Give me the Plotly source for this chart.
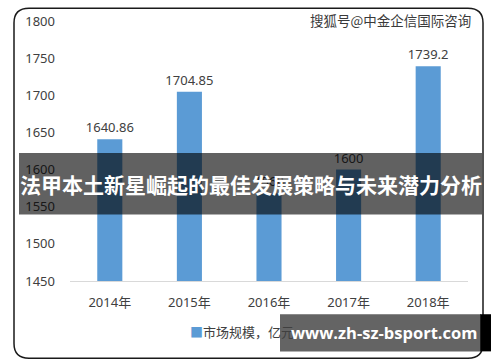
import plotly.graph_objects as go

years = ["2014年", "2015年", "2016年", "2017年", "2018年"]
market_size = [1640.86, 1704.85, 1568, 1600, 1739.2]
value_labels = ["1640.86", "1704.85", "1568", "1600", "1739.2"]
y_ticks = [1450, 1500, 1550, 1600, 1650, 1700, 1750, 1800]
series_name = "市场规模，亿元"
title_text = "法甲本土新星崛起的最佳发展策略与未来潜力分析"
watermark = "搜狐号@中金企信国际咨询"
site_text = "www.zh-sz-bsport.com"

W, H = 500, 362
L, R, T, B = 70, 32, 15, 81
PW, PH = W - L - R, H - T - B


def px(x):
    return (x - L) / PW


def py(y):
    return (H - B - y) / PH


BLUE = "#5b9bd5"
TXT = "#404040"
FONT = "Noto Sans, Noto Sans CJK SC, sans-serif"

fig = go.Figure()
fig.add_trace(go.Bar(
    x=years, y=market_size, name=series_name,
    marker=dict(color=BLUE, line=dict(width=0)),
    text=value_labels, textposition="outside", constraintext="none",
    textfont=dict(size=13, color=TXT, family=FONT),
    cliponaxis=False, showlegend=False,
))

# rounded frame
x0, y0, x1, y1, r = 14, 2, 483, 360, 15
path = (
    f"M {px(x0 + r)},{py(y0)} L {px(x1 - r)},{py(y0)} "
    f"Q {px(x1)},{py(y0)} {px(x1)},{py(y0 + r)} "
    f"L {px(x1)},{py(y1 - r)} Q {px(x1)},{py(y1)} {px(x1 - r)},{py(y1)} "
    f"L {px(x0 + r)},{py(y1)} Q {px(x0)},{py(y1)} {px(x0)},{py(y1 - r)} "
    f"L {px(x0)},{py(y0 + r)} Q {px(x0)},{py(y0)} {px(x0 + r)},{py(y0)} Z"
)
shapes = [
    dict(type="path", xref="paper", yref="paper", path=path,
         line=dict(color="#1a1a1a", width=1.5), layer="below"),
    dict(type="rect", xref="paper", yref="paper",
         x0=px(19), x1=px(482), y0=py(150), y1=py(213),
         fillcolor="rgba(0,0,0,0.62)", line=dict(width=0), layer="above"),
    dict(type="rect", xref="paper", yref="paper",
         x0=px(480), x1=px(491), y0=py(315), y1=py(353),
         fillcolor="#000000", line=dict(width=0), layer="above"),
    dict(type="rect", xref="paper", yref="paper",
         x0=px(280), x1=px(481), y0=py(315), y1=py(353),
         fillcolor="rgba(40,40,40,0.72)", line=dict(width=0), layer="above"),
]

annotations = [
    dict(text=f"<span style='color:{BLUE}'>■</span>{series_name}", xref="paper", yref="paper",
         x=px(188), y=py(333), xanchor="left", yanchor="middle",
         showarrow=False, font=dict(size=13, color=TXT, family="Noto Sans CJK SC")),
    dict(text=f"<b>{title_text}</b>", xref="paper", yref="paper",
         x=px(250.5), y=py(182), xanchor="center", yanchor="middle",
         showarrow=False, font=dict(size=21, color="white", family="Noto Sans CJK SC")),
    dict(text=watermark, xref="paper", yref="paper",
         x=px(473), y=py(14), xanchor="right", yanchor="middle",
         showarrow=False, font=dict(size=13.5, color="#3a3a3a", family="Noto Sans CJK SC")),
    dict(text=f"<b>{site_text}</b>", xref="paper", yref="paper",
         x=px(384), y=py(334), xanchor="center", yanchor="middle",
         showarrow=False, font=dict(size=16.5, color="white", family="Open Sans, Noto Sans")),
]

fig.update_layout(
    width=W, height=H,
    margin=dict(l=L, r=R, t=T, b=B, pad=0),
    paper_bgcolor="white", plot_bgcolor="white",
    bargap=0.685,
    showlegend=False,
    xaxis=dict(showline=True, linecolor="#d9d9d9", linewidth=1, ticks="",
               showgrid=False, tickfont=dict(size=13, color=TXT, family=FONT),
               ticklabelstandoff=9, fixedrange=True),
    yaxis=dict(range=[1450, 1800], tickvals=y_ticks, showgrid=False, zeroline=False,
               showline=False, ticks="", tickfont=dict(size=13, color=TXT, family=FONT),
               ticklabelstandoff=14, fixedrange=True),
    shapes=shapes,
    annotations=annotations,
)

fig.write_html("out.html")
